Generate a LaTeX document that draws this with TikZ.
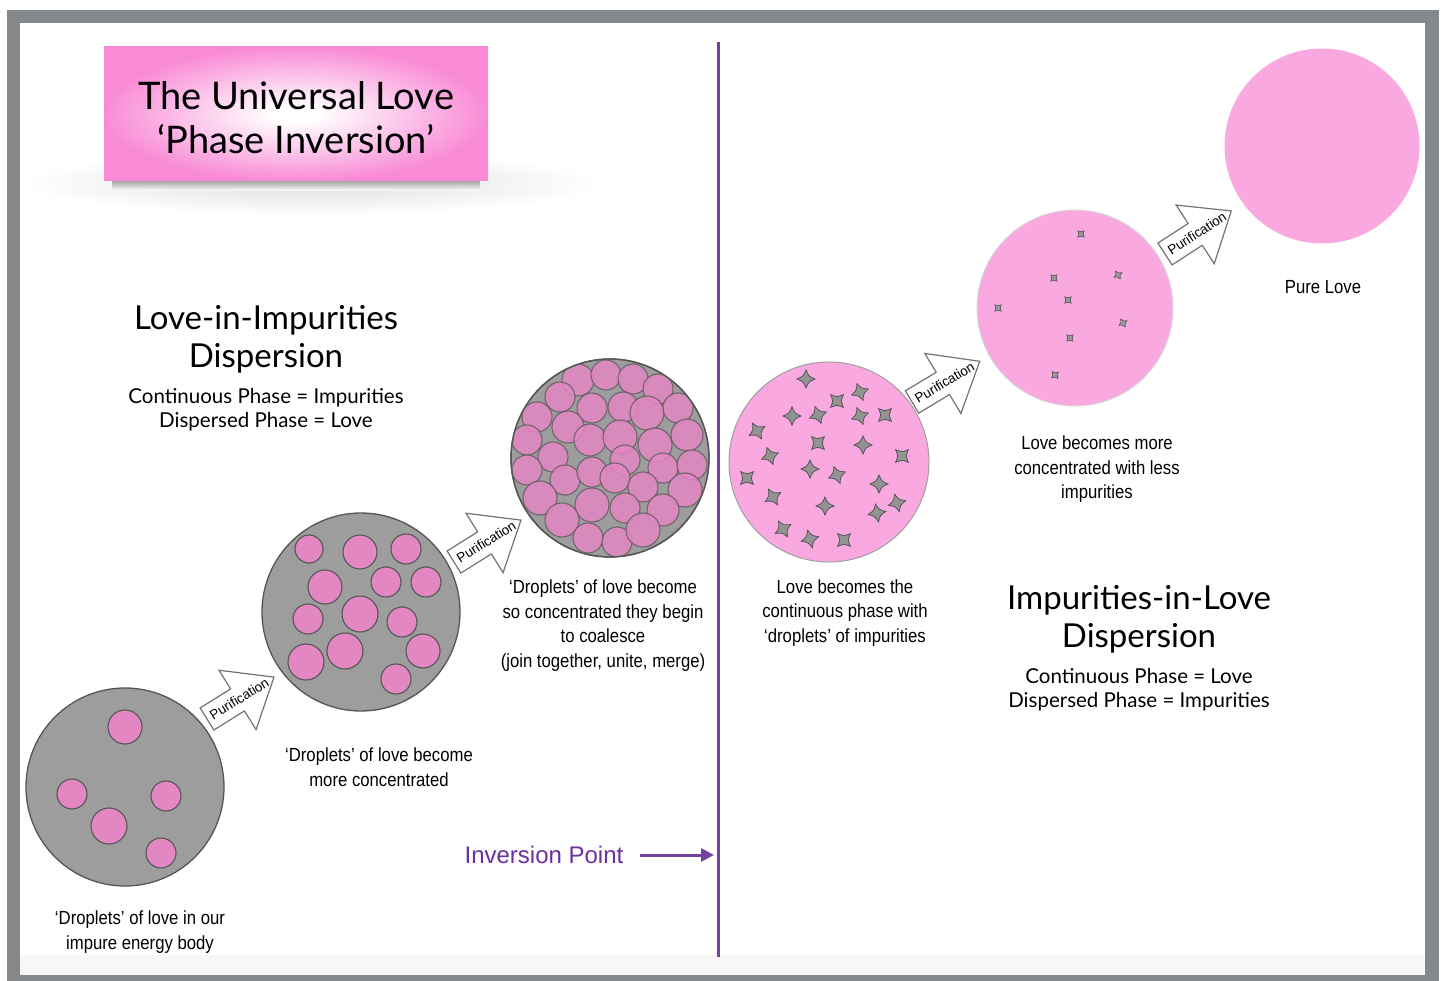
\documentclass[tikz,border=0pt]{standalone}
\usepackage{fontspec}
\setmainfont{Liberation Sans}
\newfontfamily\lbl[FakeStretch=0.88]{Liberation Sans}
\newfontfamily\hand{Lato}
\usetikzlibrary{arrows.meta}
\definecolor{framegray}{HTML}{85888B}
\definecolor{lovepink}{HTML}{F9A8E0}
\definecolor{droppink}{HTML}{E387C2}
\definecolor{impgray}{HTML}{9D9D9D}
\definecolor{edgegray}{HTML}{555555}
\definecolor{titlepink}{HTML}{F98BD6}
\definecolor{invpurple}{HTML}{6B2FA0}
\definecolor{linepurple}{HTML}{7241A1}
\pgfdeclareradialshading{titleshade}{\pgfpoint{0bp}{0bp}}{color(0bp)=(white); color(3bp)=(white); color(25bp)=(titlepink); color(50bp)=(titlepink)}
\pgfdeclareradialshading{shadowshade}{\pgfpoint{0bp}{0bp}}{color(0bp)=(black!13); color(12bp)=(black!7); color(25bp)=(white); color(50bp)=(white)}
\tikzset{
  every node/.style={inner sep=0pt},
  mixcircle/.style={circle, fill=impgray, draw=edgegray, line width=1.3pt, minimum size=198pt},
  lovecircle/.style={circle, fill=lovepink, draw=gray!75, line width=1pt, minimum size=200pt},
  drop/.style={fill=droppink, draw=edgegray, line width=1.1pt},
  cdrop/.style={fill=droppink, fill opacity=0.85, draw=edgegray, draw opacity=0.75, line width=1.1pt},
  bigstar/.style={fill=gray!85, draw=edgegray, line width=0.8pt},
  smallstar/.style={fill=gray!80, draw=edgegray, line width=0.6pt},
  lbltext/.style={font=\lbl\fontsize{19}{24.5}\selectfont, align=center, text=black},
  headtext/.style={font=\hand\fontsize{33}{38}\selectfont, align=center},
  subtext/.style={font=\hand\fontsize{20.5}{24}\selectfont, align=center},
  parrow/.style={draw=gray!90!black, fill=white, line width=1.2pt, line join=miter},
  ptext/.style={font=\fontsize{13.5}{16}\selectfont},
  star4/.pic={\path[pic actions] (1,0) .. controls (0.3,0.3) .. (0,1) .. controls (-0.3,0.3) .. (-1,0) .. controls (-0.3,-0.3) .. (0,-1) .. controls (0.3,-0.3) .. (1,0) -- cycle;}
}
\newcommand{\purarrow}[3]{%
  \begin{scope}[shift={#2}, rotate=#3]
    \draw[parrow] (0,-13) -- (36,-13) -- (36,-35) -- (79,0) -- (36,35) -- (36,13) -- (0,13) -- cycle;
    \node[ptext, rotate=#3] (#1) at (38,0) {Purification};
  \end{scope}}
\begin{document}
\begin{tikzpicture}[x=1pt,y=-1pt]
\useasboundingbox (0,0) rectangle (1444,981);
% frame
\fill[framegray] (7,10) rectangle (1439,981);
\fill[white] (20,23) rectangle (1425,975);
\fill[black!3] (20,955) rectangle (1425,975);

% title
\shade[shading=shadowshade] (312,183) ellipse (292 and 32);
\shade[top color=black!35, bottom color=white] (112,181) rectangle (480,191);
\shade[shading=titleshade] (104,47) rectangle (488,181);
\node[font=\hand\fontsize{38}{44}\selectfont, align=center] (title) at (296,118) {The Universal Love\\‘Phase Inversion’};

% dividing line
\coordinate (vt) at (718,42);
\coordinate (vb) at (718,957);
\draw[linepurple, line width=3pt] (vt) -- (vb);
\node[font=\fontsize{24}{28}\selectfont, text=invpurple] (inv) at (544,855) {Inversion Point};
\coordinate (ipt) at (714,855);
\draw[linepurple, line width=3pt, -{Triangle[length=13pt,width=13pt]}] ([xshift=16pt]inv.east) -- (ipt);

% headings
\node[headtext] (lhead) at (266,339) {Love-in-Impurities\\Dispersion};
\node[subtext] (lsub) at (266,410) {Continuous Phase = Impurities\\Dispersed Phase = Love};
\node[headtext] (rhead) at (1139,619) {Impurities-in-Love\\Dispersion};
\node[subtext] (rsub) at (1139,690) {Continuous Phase = Love\\Dispersed Phase = Impurities};

% circle 1
\node[mixcircle] (c1) at (125,787) {};
\foreach \x/\y/\r in {125/727/17, 72/794/15, 166/796/15, 109/826/18, 161/853/15}
  \draw[drop] (\x,\y) circle (\r);

% circle 2
\node[mixcircle] (c2) at (361,612) {};
\foreach \x/\y/\r in {309/549/14, 360/552/17, 406/549/15, 325/587/17, 386/582/15, 426/582/15, 360/614/18, 308/619/15, 402/622/15, 345/651/18, 306/662/18, 423/651/17, 396/679/15}
  \draw[drop] (\x,\y) circle (\r);

% circle 3 (coalescing)
\node[mixcircle] (c3) at (610,458) {};
\begin{scope}
  \clip (610,458) circle (98);
  \foreach \x/\y/\r in {578/380/16, 606/375/15, 633/379/15, 658/389/15, 560/397/15, 592/408/15, 623/407/15, 647/413/17, 678/408/15, 537/417/15, 568/427/16, 590/440/16, 620/437/17, 655/445/17, 687/435/16, 527/440/15, 553/457/15, 625/460/15, 663/468/15, 692/465/15, 527/470/15, 565/480/15, 592/472/15, 615/478/15, 643/487/15, 685/490/17, 540/498/17, 592/505/17, 625/508/15, 663/510/16, 562/520/17, 588/538/15, 617/542/15, 643/530/17}
    \draw[cdrop] (\x,\y) circle (\r);
\end{scope}
\draw[edgegray, line width=1.3pt] (610,458) circle (99);

% circle 4 (love continuous)
\node[lovecircle] (c4) at (829,462) {};
\foreach \x/\y/\a in {806/379/0, 860/392/20, 837/401/45, 792/416/0, 818/415/20, 860/416/20, 885/415/45, 757/431/30, 818/443/45, 863/445/0, 770/456/20, 902/456/45, 747/478/45, 810/469/0, 837/475/20, 879/484/0, 773/497/30, 897/503/15, 825/506/0, 877/513/10, 783/529/30, 810/539/15, 844/540/45}
  \pic[bigstar, rotate=\a, scale=9] at (\x,\y) {star4};

% circle 5 (less impurities)
\node[lovecircle, draw=gray!30, minimum size=196pt] (c5) at (1075,308) {};
\foreach \x/\y/\a in {1081/234/45, 1054/278/45, 1118/275/30, 1068/300/45, 998/308/45, 1123/323/30, 1070/338/45, 1055/375/40}
  \pic[smallstar, rotate=\a, scale=4.5] at (\x,\y) {star4};

% circle 6 (pure love)
\node[circle, fill=lovepink, minimum size=195pt] (c6) at (1322,146) {};

% purification arrows
\purarrow{p1}{(207,719)}{32}
\purarrow{p2}{(454,562)}{32}
\purarrow{p3}{(912,402)}{31}
\purarrow{p4}{(1165,254)}{33}

% labels
\node[lbltext] (l1) at (140,932) {‘Droplets’ of love in our\\impure energy body};
\node[lbltext] (l2) at (379,767) {‘Droplets’ of love become\\more concentrated};
\node[lbltext] (l3) at (603,625.5) {‘Droplets’ of love become\\so concentrated they begin\\to coalesce\\(join together, unite, merge)};
\node[lbltext] (l4) at (845,613) {Love becomes the\\continuous phase with\\‘droplets’ of impurities};
\node[lbltext] (l5) at (1097,469.5) {Love becomes more\\concentrated with less\\impurities};
\node[lbltext] (l6) at (1323,287) {Pure Love};
\end{tikzpicture}
\end{document}
